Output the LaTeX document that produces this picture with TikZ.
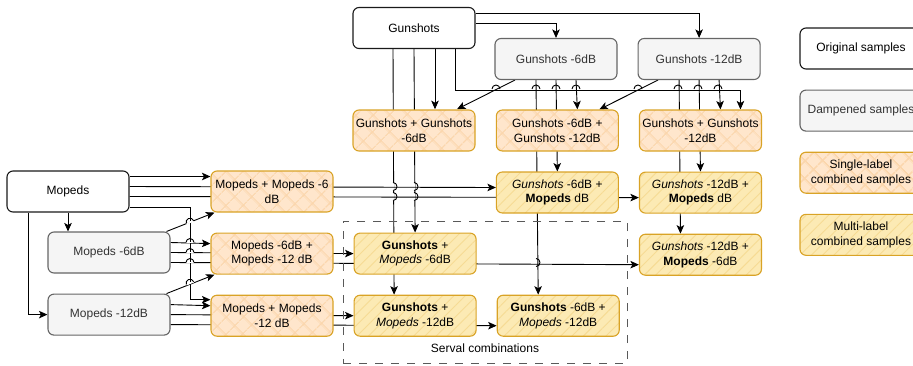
\documentclass[tikz,border=0pt]{standalone}
\usepackage{fontspec}
\setmainfont{Liberation Sans}
\usepackage{xcolor}
\usepackage{tikz}
\usetikzlibrary{arrows.meta, positioning, backgrounds, patterns.meta}
\tikzstyle{arrow} = [line width=0.9pt,->,>={Stealth[length=8.5pt,width=7.5pt,inset=2pt]}]
\tikzstyle{edge} = [line width=0.9pt]

\definecolor{orgline}{HTML}{1A1A1A}
\definecolor{dmpfill}{HTML}{F5F5F5}
\definecolor{dmpline}{HTML}{666666}
\definecolor{dmptext}{HTML}{333333}
\definecolor{sglfill}{HTML}{FFE6CC}
\definecolor{sglhatch}{HTML}{FBD6AC}
\definecolor{mltfill}{HTML}{FCEAB4}
\definecolor{mlthatch}{HTML}{F6DB94}
\definecolor{combline}{HTML}{D9A326}

% line jump: a small arc where one line passes over another
\newcommand{\hop}[3]{\begin{scope}[shift={(#1,#2)}, rotate=#3]
  \fill[white] (-4,-0.8) rectangle (4,0.8);
  \draw[edge] (-4,0) arc[start angle=180, end angle=360, radius=4];
\end{scope}}

\begin{document}
\begin{tikzpicture}[x=1pt,y=-1pt]
	% Define styles for the boxes
	\tikzstyle{box} = [rectangle, rounded corners=6pt, minimum width=122pt, minimum height=41pt, inner sep=1pt, align=center, font=\fontsize{12}{14.5}\selectfont, line width=1.1pt]
	\tikzstyle{original} = [box, draw=orgline, fill=white]
	\tikzstyle{dampened} = [box, draw=dmpline, fill=dmpfill, text=dmptext]
	\tikzstyle{single} = [box, draw=combline, preaction={fill=sglfill}, pattern={Hatch[angle=45, distance=13pt, line width=1.6pt]}, pattern color=sglhatch]
	\tikzstyle{multi} = [box, draw=combline, preaction={fill=mltfill}, pattern={Lines[angle=45, distance=8pt, line width=0.9pt]}, pattern color=mlthatch]
	\tikzstyle{group} = [draw=black!65, dash pattern=on 8pt off 8pt, line width=0.9pt, minimum width=284pt, minimum height=142pt, inner sep=0pt]
	
	\useasboundingbox (0,0) rectangle (913,365);
	
	% Gunshots
	\node[original] (gun) at (414,28) {Gunshots};
	\node[dampened] (g6) at (556,59) {Gunshots -6dB};
	\node[dampened, right=20pt of g6] (g12) {Gunshots -12dB};
	\node[single] (gg6) at (414,130.5) {Gunshots + Gunshots\\-6dB};
	\node[single, right=20pt of gg6] (gg612) {Gunshots -6dB +\\Gunshots -12dB};
	\node[single, right=20pt of gg612] (gg12) {Gunshots + Gunshots\\-12dB};
	
	% Mopeds
	\node[original] (mop) at (68,191.5) {Mopeds};
	\node[dampened] (m6) at (109,252.5) {Mopeds -6dB};
	\node[dampened, below=20pt of m6] (m12) {Mopeds -12dB};
	\node[single] (mm6) at (272,191.5) {Mopeds + Mopeds -6\\dB};
	\node[single, below=20pt of mm6] (mm612) {Mopeds -6dB +\\Mopeds -12 dB};
	\node[single, below=20pt of mm612] (mm12) {Mopeds + Mopeds\\-12 dB};
	
	% Combinations
	\node[multi, below=20pt of gg612] (g6m) {\textit{Gunshots} -6dB +\\\textbf{Mopeds} dB};
	\node[multi, below=20pt of gg12] (g12m) {\textit{Gunshots} -12dB +\\\textbf{Mopeds} dB};
	\node[multi, below=20pt of g12m] (g12m6) {\textit{Gunshots} -12dB +\\\textbf{Mopeds} -6dB};
	\node[multi, right=20pt of mm612] (gm6) {\textbf{Gunshots} +\\\textit{Mopeds} -6dB};
	\node[multi, below=20pt of gm6] (gm12) {\textbf{Gunshots} +\\\textit{Mopeds} -12dB};
	\node[multi, right=20pt of gm12] (g6m12) {\textbf{Gunshots} -6dB +\\\textit{Mopeds} -12dB};
	
	\node[group] (serval) at (485,292) {};
	\node[font=\fontsize{12}{14.5}\selectfont, anchor=base] (servaltext) at (485,352) {Serval combinations};
	
	% Legend
	\node[original] (legorg) at (861,48.5) {Original samples};
	\node[dampened, below=20pt of legorg] (legdmp) {Dampened samples};
	\node[single, below=20pt of legdmp] (legsgl) {Single-label\\combined samples};
	\node[multi, below=20pt of legsgl] (legmlt) {Multi-label\\combined samples};
	
	\begin{scope}[on background layer]
		% Gunshots lines
		\draw[arrow] ([xshift=41pt]gun.south) -- ++(0,41) -| ([xshift=40pt]gg12.north);
		\foreach \x in {496,536,556,576,638,678,698,718}
			\hop{\x}{89}{0};
		\draw[arrow] ([yshift=5pt]gun.east) -| (g6.north);
		\draw[arrow] ([yshift=15pt]gun.east) -| (g12.north);
		\draw[arrow] ([xshift=21pt]gun.south) -- ([xshift=21pt]gg6.north);
		\draw[arrow] (gun.south) -- (gm6.north);
		\draw[arrow] ([xshift=-21pt]gun.south) -- ([xshift=-21pt]gm12.north);
		\foreach \x in {393,414}
			\foreach \y in {186.5,196.5}
				\hop{\x}{\y}{-90};
		
		\draw[arrow] ([xshift=-41pt]g6.south) -- ([xshift=43pt]gg6.north);
		\draw[arrow] ([xshift=20pt]g6.south) -- ([xshift=20pt]gg612.north);
		\draw[arrow] (g6.south) -- (g6m.north);
		\draw[arrow] ([xshift=-20pt]g6.south) -- ([xshift=-20pt]g6m12.north);
		\hop{536}{262.5}{-90};
		
		\draw[arrow] ([xshift=-41pt]g12.south) -- ([xshift=42pt]gg612.north);
		\draw[arrow] ([xshift=20pt]g12.south) -- ([xshift=20pt]gg12.north);
		\draw[arrow] (g12.south) -- (g12m.north);
		\draw[arrow] ([xshift=-20pt]g12.south) -- ([xshift=-20pt]g12m6.north);
		
		% Mopeds lines
		\draw[arrow] ([yshift=15pt]mop.east) -- ([yshift=15pt]mm6.west);
		\draw[arrow] ([yshift=5pt]mop.east) -- ([yshift=5pt]g6m.west);
		\draw[arrow] ([yshift=-5pt]mop.east) -- ([yshift=-5pt]g12m.west);
		\draw[arrow] ([yshift=-16pt]mop.east) -- ++(61,0) |- ([yshift=16pt]mm12.west);
		\draw[arrow] (mop.south) -- (mop.south |- m6.north);
		\draw[arrow] ([xshift=-40pt]mop.south) |- (m12.west);
		
		\draw[arrow] ([xshift=-4pt]m6.north east) -- ([xshift=4pt]mm6.south west);
		\draw[arrow] ([yshift=10pt]m6.east) -- ([yshift=10pt]mm612.west);
		\draw[arrow] (m6.east) -- (gm6.west);
		\draw[arrow] ([yshift=-10pt]m6.east) -- ([yshift=-10pt]g12m6.west);
		
		\draw[arrow] ([xshift=-4pt]m12.north east) -- ([xshift=4pt]mm612.south west);
		\draw[arrow] ([yshift=10pt]m12.east) -- ([yshift=10pt]mm12.west);
		\draw[arrow] (m12.east) -- (gm12.west);
		\draw[arrow] ([yshift=-10pt]m12.east) -- ([yshift=-10pt]g6m12.west);
		
		\foreach \y in {242.5,252.5,262.5}
			\hop{190}{\y}{0};
		\hop{190}{222.2}{22};
		\hop{190}{283.2}{22};
	\end{scope}
\end{tikzpicture}
\end{document}
